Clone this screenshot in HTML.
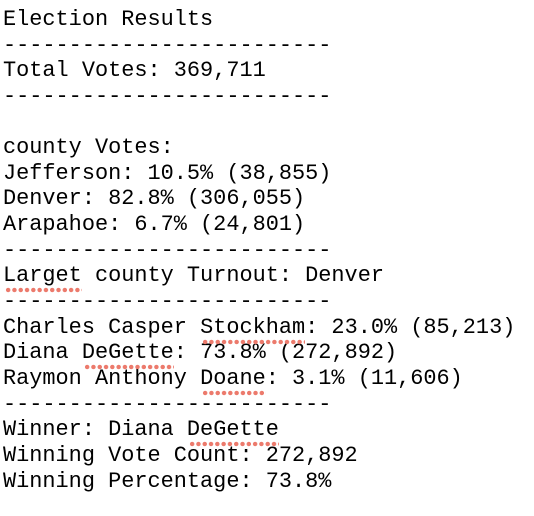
<!DOCTYPE html>
<html><head><meta charset="utf-8"><style>
html,body{margin:0;padding:0;background:#fff;width:534px;height:516px;overflow:hidden}
#out{position:absolute;left:3px;top:7px;font-family:"Liberation Mono",monospace;font-size:21.9px;line-height:25.65px;color:#000}
.l{height:25.65px;white-space:pre}
.sp{position:relative}
.sp::after{content:"";position:absolute;left:2px;right:0;top:24px;height:6px;background:radial-gradient(circle,#ec7a6c 2px,transparent 2.4px) 0 0/6.3px 6px repeat-x}
</style></head><body>
<div id="out"><div class="l">Election Results</div><div class="l">-------------------------</div><div class="l">Total Votes: 369,711</div><div class="l">-------------------------</div><div class="l"> </div><div class="l">county Votes:</div><div class="l">Jefferson: 10.5% (38,855)</div><div class="l">Denver: 82.8% (306,055)</div><div class="l">Arapahoe: 6.7% (24,801)</div><div class="l">-------------------------</div><div class="l"><span class="sp">Larget</span> county Turnout: Denver</div><div class="l">-------------------------</div><div class="l">Charles Casper <span class="sp">Stockham</span>: 23.0% (85,213)</div><div class="l">Diana <span class="sp">DeGette</span>: 73.8% (272,892)</div><div class="l">Raymon Anthony <span class="sp">Doane</span>: 3.1% (11,606)</div><div class="l">-------------------------</div><div class="l">Winner: Diana <span class="sp">DeGette</span></div><div class="l">Winning Vote Count: 272,892</div><div class="l">Winning Percentage: 73.8%</div></div>
</body></html>
